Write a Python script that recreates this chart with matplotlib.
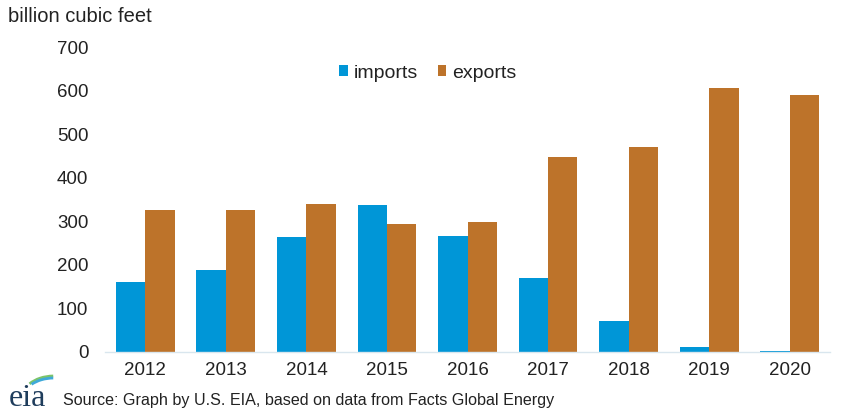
import matplotlib
matplotlib.use("Agg")
import matplotlib.pyplot as plt
import numpy as np
from matplotlib.patches import Arc

plt.rcParams['font.family'] = ['Liberation Sans', 'DejaVu Sans']

years = ["2012", "2013", "2014", "2015", "2016", "2017", "2018", "2019", "2020"]
imports = [161, 188, 265, 337, 266, 169, 72, 11, 3]
exports = [326, 326, 340, 294, 298, 447, 471, 607, 590]
yticks = [0, 100, 200, 300, 400, 500, 600, 700]

c_imp = "#0096D7"
c_exp = "#BD732A"

W, H = 842, 413
fig = plt.figure(figsize=(W / 100, H / 100), dpi=100)
ax = fig.add_axes([105 / W, 1 - 352 / H, (830 - 105) / W, (352 - 47) / H])

x = np.arange(len(years))
bw = 0.365
ax.bar(x - bw / 2, imports, bw, color=c_imp, label="imports", zorder=2)
ax.bar(x + bw / 2, exports, bw, color=c_exp, label="exports", zorder=2)

ax.set_xlim(-0.5, len(years) - 0.5)
ax.set_ylim(0, 700)
ax.set_yticks(yticks)
ax.set_yticklabels([str(v) for v in yticks], fontsize=13.5, color="#222222")
ax.set_xticks(x)
ax.set_xticklabels(years, fontsize=13.5, color="#222222")
ax.tick_params(axis="both", length=0)
ax.tick_params(axis="y", pad=12)
ax.tick_params(axis="x", pad=7)
for s in ["top", "right", "left"]:
    ax.spines[s].set_visible(False)
ax.spines["bottom"].set_color("#D9E6EE")
ax.spines["bottom"].set_linewidth(1)

leg = ax.legend(loc="upper center", bbox_to_anchor=((428 - 105) / 725, 1.0), ncol=2, frameon=False,
                fontsize=14, handlelength=0.45, handleheight=0.45, handletextpad=0.3,
                columnspacing=1.0)
for t in leg.get_texts():
    t.set_color("#222222")

fig.text(8 / W, 1 - 17 / H, "billion cubic feet", fontsize=14.5, color="#222222",
         va="center", ha="left")
fig.text(63 / W, 1 - 401 / H, "Source: Graph by U.S. EIA, based on data from Facts Global Energy",
         fontsize=11.6, color="#222222", va="center", ha="left")
# eia logo
fig.text(9 / W, 1 - 399 / H, "eia", fontsize=23, family=["Liberation Serif", "DejaVu Serif"],
         color="#1F3D5C", va="center", ha="left")
lax = fig.add_axes([10 / W, 1 - 392 / H, 48 / W, 20 / H])
lax.set_xlim(0, 48)
lax.set_ylim(0, 20)
lax.axis("off")
lax.add_patch(Arc((44, -6), 64, 44, theta1=92, theta2=150, color="#7CC36A", lw=2))
lax.add_patch(Arc((44, -8), 64, 44, theta1=92, theta2=145, color="#3FA9D9", lw=2))

fig.savefig("out.png", dpi=100)
